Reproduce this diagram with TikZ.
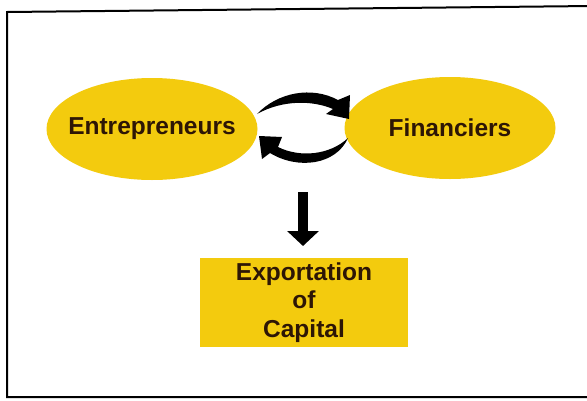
\documentclass[tikz,border=0pt]{standalone}
\usepackage{fontspec}
\setmainfont{Liberation Sans}
\usetikzlibrary{arrows.meta,shapes.geometric}
\definecolor{gold}{RGB}{243,203,14}
\definecolor{ink}{RGB}{45,22,5}
\tikzset{
  x=1pt,y=-1pt,
  oval/.style={ellipse,fill=gold,minimum width=211pt,minimum height=102pt,inner xsep=-15pt,inner ysep=0pt,font=\fontsize{24.5}{28}\selectfont\bfseries,text=ink},
  boxnode/.style={rectangle,fill=gold,minimum width=208pt,minimum height=89pt,inner sep=0pt,align=center,font=\fontsize{24.5}{28.5}\selectfont\bfseries,text=ink},
  blackshape/.style={fill=black,draw=none},
}
\begin{document}
\begin{tikzpicture}
\useasboundingbox (0,0) rectangle (587,400);
\fill[white] (0,0) rectangle (587,400);
\draw[line width=2pt] (592,6) -- (7,12) -- (7,397) -- (592,397);
\node[oval] (ent) at (152,129) {Entrepreneurs};
\node[oval] (fin) at (450,128) {Financiers};
\node[boxnode] (exp) at (304,302.5) {Exportation\\of\\Capital};
% upper curved arrow (towards Financiers)
\fill[blackshape] (257,114) .. controls (278,92) and (312,86) .. (338,100)
  -- (350,95) -- (349,119) -- (326,114) -- (333,109)
  .. controls (312,100) and (282,100) .. (257,114) -- cycle;
% lower curved arrow (towards Entrepreneurs)
\fill[blackshape] (348,138) .. controls (330,155) and (300,158) .. (278,147)
  -- (282,137) -- (259,136) -- (262,159) -- (270,153)
  .. controls (298,170) and (336,165) .. (348,138) -- cycle;
% down arrow
\coordinate (d1) at (303,192);
\coordinate (d2) at (303,246);
\draw[line width=10pt,-{Triangle[length=15pt,width=31pt]}] (d1) -- (d2);
\end{tikzpicture}
\end{document}
